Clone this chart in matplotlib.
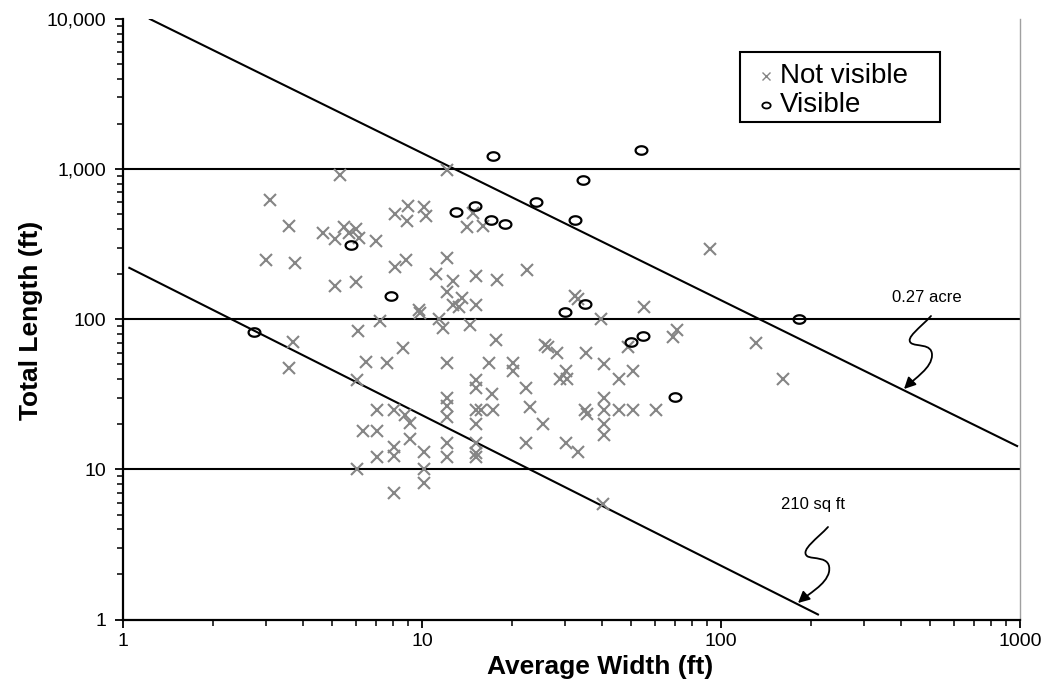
import numpy as np
import matplotlib
matplotlib.use("Agg")
import matplotlib.pyplot as plt
from matplotlib.path import Path
from matplotlib.lines import Line2D
from matplotlib.patches import FancyArrowPatch, Rectangle
from matplotlib.transforms import IdentityTransform
from matplotlib.ticker import FuncFormatter, LogLocator, NullFormatter

plt.rcParams['font.family'] = ['Liberation Sans', 'DejaVu Sans']

# Not visible (gray x)
not_vis_w = [5.3, 3.1, 3.6, 4.65, 5.1, 5.5, 5.7, 6.0, 6.15, 7.0, 8.1, 3.0, 3.75, 8.1, 5.1, 6.0,
             3.7, 6.1, 7.25, 3.6, 6.05, 6.5, 7.65, 7.05, 8.05, 6.35, 7.05, 7.05, 8.05, 8.05, 6.05, 8.05,
             8.65, 9.0, 8.9, 10.15, 10.3, 12.1, 14.8, 14.1, 16.0, 8.85, 12.1, 11.1, 12.7, 15.2, 17.8,
             12.1, 13.6, 12.7, 13.3, 15.2, 9.8, 9.85, 11.4, 11.8, 14.5, 17.7, 12.1, 16.75, 15.1, 15.1,
             17.2, 12.1, 12.1, 8.75, 9.1, 12.1, 15.1, 15.8, 17.3, 15.1, 9.1, 10.15, 12.1, 12.1, 15.1,
             15.1, 15.1, 10.15, 10.15, 22.4, 25.8, 26.4, 28.2, 35.3, 20.2, 20.2, 22.3, 30.2, 29.0, 30.5,
             23.0, 25.3, 35.0, 35.5, 30.2, 33.3, 22.3, 32.5, 33.2, 39.7, 40.6, 40.6, 40.6, 40.6, 40.6,
             40.4, 45.6, 45.6, 50.7, 50.7, 49.0, 55.4, 60.5, 69.0, 71.0, 92.0, 131.0, 161.0]
not_vis_l = [920, 625, 420, 375, 343, 414, 377, 400, 350, 330, 505, 250, 237, 223, 167, 176,
             71, 83, 97, 47.5, 39.5, 52, 51, 25, 25, 18, 18, 12, 14.2, 12.2, 10, 7,
             64, 570, 450, 560, 490, 990, 510, 412, 420, 250, 256, 200, 179, 195, 183,
             153, 138, 125, 121, 125, 116, 110, 100, 88, 92, 73, 51, 51, 39.5, 35,
             32, 30, 26.5, 23, 20.3, 22.5, 25, 25, 25, 20, 16, 13, 15, 12, 15,
             12.8, 12.1, 10, 8.1, 214, 67.5, 65, 59.5, 59.5, 51, 45.5, 35, 45, 40, 40,
             26, 20, 25, 23.5, 15, 13, 15, 143, 137, 100, 50.5, 30, 25, 20, 17,
             5.9, 40, 25, 45, 25, 65, 120, 25, 76, 85, 294, 70, 40]

# Visible (black o)
vis_w = [2.75, 5.8, 7.9, 13.0, 15.0, 17.0, 19.0, 17.3, 24.0, 34.5, 32.5, 54.0, 30.0, 35.0,
         50.0, 55.0, 70.0, 182.0]
vis_l = [82, 310, 142, 515, 565, 455, 430, 1220, 600, 840, 455, 1350, 111, 126,
         71, 77, 30.5, 100]

# constant-area reference lines
acre_w = [1.23, 978]
acre_l = [10000, 14.3]
sqft_w = [1.05, 211]
sqft_l = [220, 1.08]

grid_vals = [10, 100, 1000]
y_ticks = [1, 10, 100, 1000, 10000]
x_ticks = [1, 10, 100, 1000]

W, H = 1046, 696
fig = plt.figure(figsize=(W / 100, H / 100), dpi=100)
ax = fig.add_axes([123 / W, 1 - 619.5 / H, (1020 - 123) / W, (619.5 - 19) / H])
ax.set_xscale('log')
ax.set_yscale('log')
ax.set_xlim(1, 1000)
ax.set_ylim(1, 10000)

for g in grid_vals:
    ax.axhline(g, color='black', lw=1.5, zorder=1)

ax.plot(acre_w, acre_l, color='black', lw=1.5, zorder=2)
ax.plot(sqft_w, sqft_l, color='black', lw=1.5, zorder=2)

theta = np.linspace(0, 2 * np.pi, 60)
ellipse = Path(np.column_stack([np.cos(theta), 0.72 * np.sin(theta)]), closed=True)

ax.plot(not_vis_w, not_vis_l, ls='none', marker='x', ms=8.5, mew=1.5,
        color='#858585', zorder=3)
ax.plot(vis_w, vis_l, ls='none', marker=ellipse, ms=8.5, mew=1.6,
        mfc='none', mec='black', zorder=4)

ax.set_xticks(x_ticks)
ax.set_yticks(y_ticks)
ax.xaxis.set_minor_locator(LogLocator(base=10, subs=np.arange(2, 10)))
ax.yaxis.set_minor_locator(LogLocator(base=10, subs=np.arange(2, 10)))
ax.xaxis.set_minor_formatter(NullFormatter())
ax.yaxis.set_minor_formatter(NullFormatter())
ax.xaxis.set_major_formatter(FuncFormatter(lambda v, p: f'{v:.0f}'))
ax.yaxis.set_major_formatter(FuncFormatter(lambda v, p: f'{v:,.0f}'))
ax.tick_params(which='major', direction='out', length=6, width=1.3, labelsize=14, pad=4)
ax.tick_params(which='minor', direction='out', length=4, width=1.1)
ax.tick_params(axis='y', which='major', pad=6)

ax.spines['top'].set_visible(False)
ax.spines['right'].set_color('#a0a0a0')
ax.spines['right'].set_linewidth(1.0)
ax.spines['left'].set_linewidth(1.6)
ax.spines['bottom'].set_linewidth(1.6)

px = IdentityTransform()
fig.text(600, H - 667, 'Average Width (ft)', fontsize=19, fontweight='bold',
         ha='center', va='center', transform=px)
fig.text(31, H - 320, 'Total Length (ft)', fontsize=19, fontweight='bold',
         ha='center', va='center', rotation=90, transform=px)

# legend box drawn by hand to match the original layout
fig.add_artist(Rectangle((740, H - 122), 200, 70, transform=px, fill=True,
                         facecolor='white', edgecolor='black', lw=1.5, zorder=5))
fig.add_artist(Line2D([766], [H - 76], transform=px, ls='none', marker='x', ms=6,
                      mew=1.0, color='#858585', zorder=6))
fig.add_artist(Line2D([766], [H - 105], transform=px, ls='none', marker=ellipse, ms=6,
                      mew=1.3, mfc='none', mec='black', zorder=6))
fig.text(780, H - 76, 'Not visible', fontsize=20, ha='left', va='center', transform=px, zorder=6)
fig.text(780, H - 105, 'Visible', fontsize=20, ha='left', va='center', transform=px, zorder=6)

ax.text(489, 139, '0.27 acre', fontsize=12, ha='center', va='center')
ax.text(203, 5.8, '210 sq ft', fontsize=12, ha='center', va='center')


def squiggle(pts):
    # pts in image pixels (y down): start, 3 cubic segments
    verts = [(x, H - y) for x, y in pts]
    codes = [Path.MOVETO] + [Path.CURVE4] * 9
    arr = FancyArrowPatch(path=Path(verts, codes), arrowstyle='-|>', mutation_scale=17,
                          color='black', lw=1.3, transform=px)
    fig.patches.append(arr)


squiggle([(931, 316), (920, 328), (905, 338), (911, 343),
          (916, 347), (932, 343), (932, 355),
          (932, 368), (915, 378), (904, 389)])
squiggle([(828, 527), (818, 538), (800, 550), (807, 556),
          (812, 560), (832, 555), (829, 572),
          (826, 585), (808, 594), (798, 603)])

fig.savefig('out.png', dpi=100)
